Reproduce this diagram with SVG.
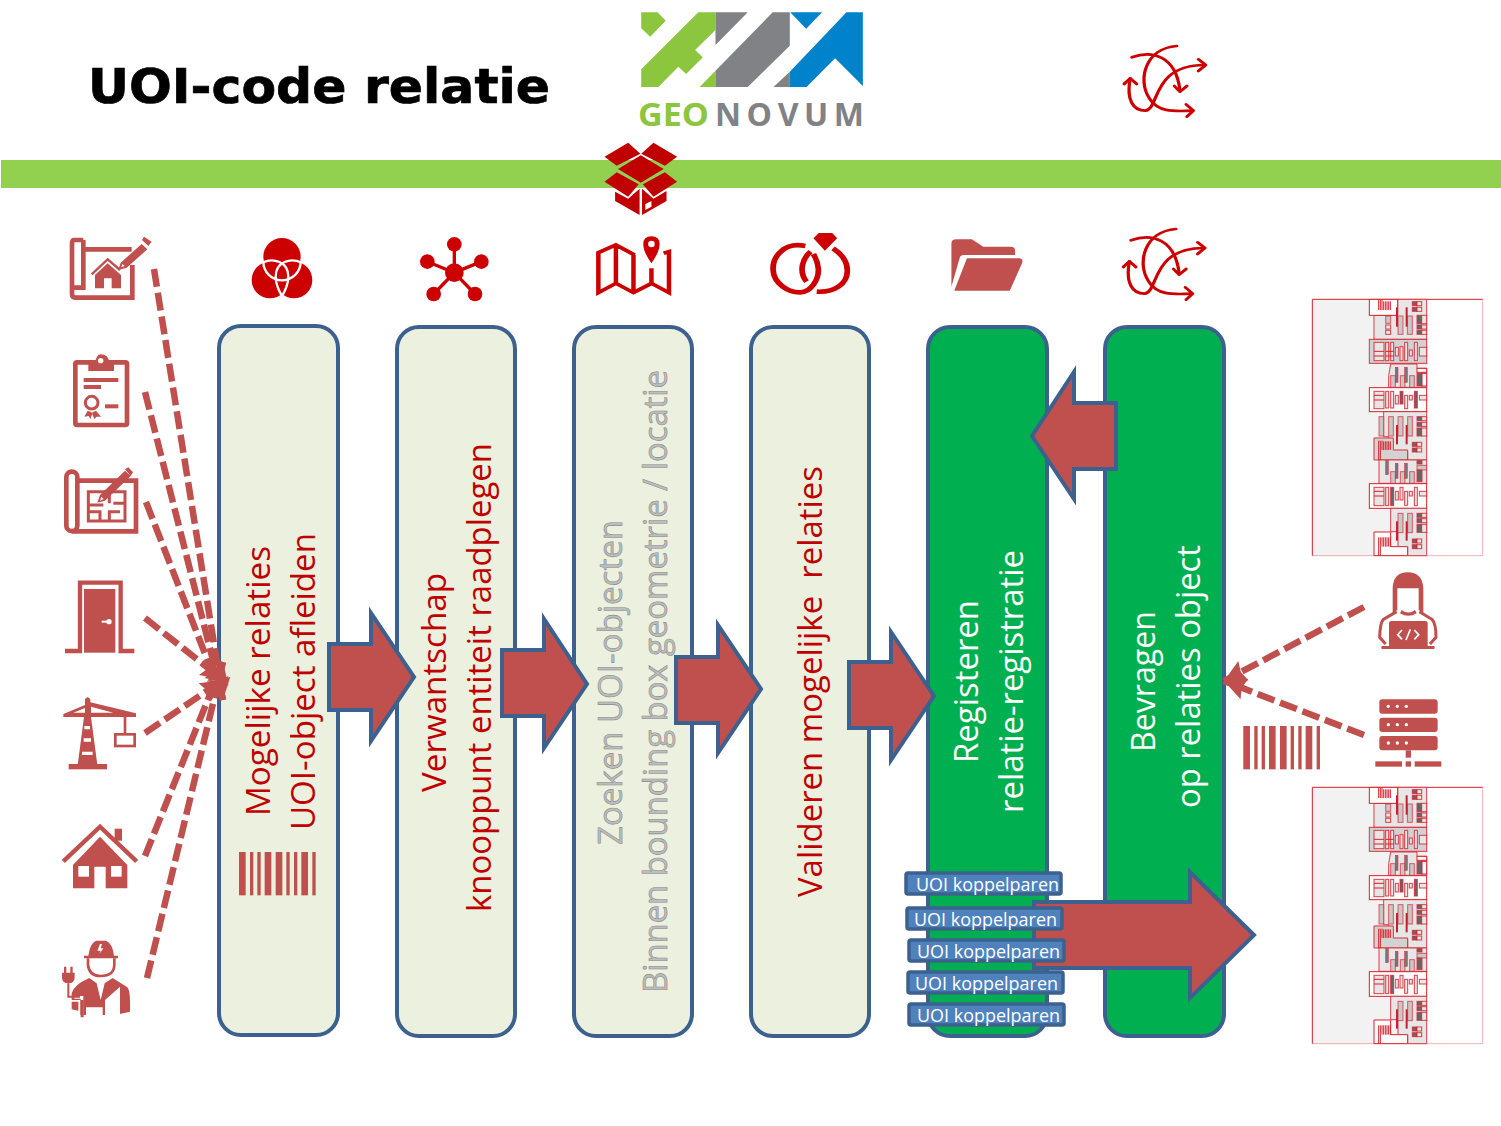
<svg xmlns="http://www.w3.org/2000/svg" xmlns:xlink="http://www.w3.org/1999/xlink" width="1501" height="1126" viewBox="0 0 1501 1126">
<style>
.bx{fill:#EBF1DE;stroke:#3C618F;stroke-width:4}
.gr{fill:#00B050;stroke:#3C618F;stroke-width:4}
.ar{fill:#C0504D;stroke:#3C618F;stroke-width:4;stroke-linejoin:miter}
.t{font-family:"Open Sans","Liberation Sans",sans-serif;font-size:33px}
.red{fill:#C00000}
.wh{fill:#fff}
.gy{fill:#BDBDBD;stroke:#8C8C8C;stroke-width:.6px}
.ic{fill:#C0504D}
.ics{fill:none;stroke:#C0504D}
.dk{fill:#CC0000}
.dks{fill:none;stroke:#CC0000}
.dash{fill:none;stroke:#C0504D;stroke-width:6.500;stroke-dasharray:18 6}
.lb{fill:#4F81BD;stroke:#3C618F;stroke-width:3.5}
.lt{font-family:"Open Sans","Liberation Sans",sans-serif;font-size:18px;fill:#fff}
.p{fill:#E6E6E6;stroke:#D8202C;stroke-width:3;stroke-opacity:.85}
.pw{fill:#fff;stroke:#D8202C;stroke-width:3}
.pd{fill:#D2D2D2;stroke:#D8202C;stroke-width:3;stroke-opacity:.9}
.pk{fill:#C8C8C8;stroke:#E02030;stroke-width:3;stroke-opacity:.7}
.pf{fill:#666;stroke:#E02030;stroke-width:3;stroke-opacity:.8}
</style>
<defs>
<marker id="tri" markerUnits="userSpaceOnUse" markerWidth="24" markerHeight="24" refX="22" refY="12" orient="auto"><path d="M0,1 L22,12 L0,23 L3,12 Z" fill="#C0504D"/></marker>
<g id="barcode"><g class="ic"><rect x="0" y="0" width="20" height="130"/><rect x="33" y="0" width="10" height="130"/><rect x="55" y="0" width="10" height="130"/><rect x="77" y="0" width="20" height="130"/><rect x="110" y="0" width="20" height="130"/><rect x="142" y="0" width="10" height="130"/><rect x="165" y="0" width="10" height="130"/><rect x="187" y="0" width="20" height="130"/><rect x="220" y="0" width="10" height="130"/></g></g>
<g id="cycle">
<g class="dks" stroke-width="8" stroke-linecap="round" stroke-linejoin="round">
<path d="M1352,172 C1400,150 1460,165 1470,272"/><path d="M1456,258 L1470,275 L1487,258"/>
<path d="M1462,138 C1385,145 1365,240 1395,295 C1415,335 1450,335 1500,332"/><path d="M1485,313 L1503,332 L1487,350"/>
<path d="M1348,235 C1338,300 1355,332 1385,332 C1420,328 1400,195 1530,195"/><path d="M1515,178 L1533,195 L1515,213"/><path d="M1333,252 L1348,235 L1364,252"/>
</g></g>
<g id="strip">
<rect x="37" y="28" width="343" height="769" fill="#F2F2F2"/>
<path d="M37,797 V28 H548" fill="none" stroke="#D8202C" stroke-width="3"/>
<path d="M548,28 V797 H37" fill="none" stroke="#E02030" stroke-opacity=".35" stroke-width="3"/>
<path class="p" d="M222,76 H293 V28 H380 V148 H222 Z"/>
<rect class="pw" x="208" y="28" width="85" height="48"/>
<path d="M236,30 V60 M241,30 V60 M246,30 V60 M251,34 V60 M256,34 V60 M261,34 V60 M266,34 V60 M271,34 V60" stroke="#D8202C" stroke-width="3"/>
<rect class="pk" x="257" y="78" width="15" height="22"/><rect class="p" x="257" y="105" width="15" height="12"/><rect class="p" x="257" y="121" width="15" height="12"/>
<rect class="pk" x="294" y="78" width="15" height="55"/><rect class="pk" x="322" y="78" width="15" height="55"/>
<rect x="288" y="52" width="6" height="58" fill="#C8202C"/><rect x="317" y="52" width="6" height="58" fill="#C8202C"/>
<rect class="pf" x="337" y="35" width="14" height="12"/><rect class="p" x="351" y="35" width="14" height="12"/><rect class="pf" x="337" y="52" width="14" height="12"/><rect class="p" x="351" y="52" width="14" height="12"/>
<rect class="pf" x="351" y="76" width="14" height="25"/><rect class="p" x="365" y="76" width="15" height="25"/><rect class="pf" x="351" y="105" width="14" height="12"/><rect class="p" x="365" y="105" width="15" height="12"/><rect class="pf" x="351" y="121" width="14" height="12"/><rect class="p" x="365" y="121" width="15" height="12"/>
<g><rect class="pd" x="208" y="148" width="172" height="72"/>
<rect class="p" x="222" y="157" width="30" height="55"/><path d="M222,184 H252 M222,198 H252" stroke="#D8202C" stroke-width="3"/>
<rect class="p" x="257" y="157" width="9" height="55"/><rect class="p" x="272" y="157" width="9" height="55"/><path d="M257,184 H281 M257,198 H281" stroke="#D8202C" stroke-width="3"/>
<rect class="p" x="286" y="172" width="9" height="26"/><rect class="p" x="300" y="170" width="9" height="42"/><rect class="p" x="314" y="157" width="9" height="55"/><rect class="p" x="328" y="180" width="9" height="18"/><rect class="p" x="343" y="157" width="9" height="55"/><rect class="p" x="358" y="172" width="22" height="26"/></g>
<path class="p" d="M266,292 V257 L272,222 H351 V235 H380 V292 Z"/>
<rect class="pk" x="272" y="257" width="14" height="35"/><rect class="pk" x="301" y="257" width="14" height="35"/><rect class="pk" x="329" y="257" width="14" height="35"/>
<rect x="286" y="232" width="8" height="45" fill="#777" stroke="#E02030" stroke-width="1.5"/><rect x="314" y="232" width="8" height="45" fill="#777" stroke="#E02030" stroke-width="1.5"/>
<rect class="pw" x="351" y="235" width="29" height="12"/><rect class="pf" x="351" y="250" width="15" height="38"/><rect class="pw" x="366" y="250" width="14" height="38"/>
<rect class="pw" x="208" y="293" width="172" height="72"/>
<g><rect class="p" x="222" y="304" width="30" height="52"/><path d="M222,316 H252 M222,330 H252" stroke="#D8202C" stroke-width="3"/><rect class="p" x="257" y="304" width="9" height="50"/><rect class="p" x="272" y="304" width="9" height="50"/><rect class="p" x="286" y="316" width="9" height="26"/><rect class="pf" x="300" y="304" width="9" height="38"/><rect class="p" x="314" y="316" width="9" height="40"/><rect class="p" x="328" y="316" width="9" height="14"/><rect class="pf" x="343" y="304" width="9" height="50"/><rect class="p" x="358" y="316" width="22" height="14"/></g>
<path class="p" d="M251,365 H380 V510 H323 V485 H266 V440 H251 Z"/>
<rect class="pk" x="237" y="380" width="14" height="58"/><rect class="pk" x="266" y="380" width="14" height="58"/><rect class="pk" x="294" y="380" width="15" height="58"/><rect class="pk" x="323" y="380" width="14" height="58"/>
<rect x="288" y="405" width="6" height="58" fill="#C8202C"/><rect x="317" y="405" width="6" height="58" fill="#C8202C"/>
<rect class="pf" x="351" y="380" width="14" height="12"/><rect class="p" x="365" y="380" width="15" height="12"/><rect class="pf" x="351" y="397" width="14" height="12"/><rect class="p" x="365" y="397" width="15" height="12"/><rect class="pf" x="351" y="414" width="14" height="24"/><rect class="p" x="365" y="414" width="15" height="24"/>
<path class="pd" d="M222,444 H280 V480 H323 V510 H222 Z"/>
<path d="M236,452 V510 M241,452 V510 M246,452 V480 M251,454 V480 M256,454 V480 M261,454 V480 M266,454 V480 M271,454 V480" stroke="#D8202C" stroke-width="3"/>
<rect class="pf" x="337" y="457" width="14" height="12"/><rect class="p" x="351" y="457" width="14" height="12"/><rect class="pf" x="337" y="474" width="14" height="12"/><rect class="p" x="351" y="474" width="14" height="12"/>
<path class="p" d="M237,510 H380 V580 H237 Z"/>
<rect class="pk" x="272" y="545" width="14" height="35"/><rect class="pk" x="301" y="545" width="14" height="35"/><rect class="pk" x="329" y="545" width="14" height="35"/>
<rect x="257" y="512" width="8" height="42" fill="#777" stroke="#E02030" stroke-width="1.5"/><rect x="286" y="520" width="8" height="45" fill="#777" stroke="#E02030" stroke-width="1.5"/><rect x="314" y="520" width="8" height="45" fill="#777" stroke="#E02030" stroke-width="1.5"/>
<rect class="pf" x="351" y="512" width="15" height="10"/><rect class="pk" x="351" y="526" width="29" height="14"/><rect class="pf" x="351" y="540" width="15" height="35"/>
<rect class="pw" x="208" y="581" width="172" height="74"/>
<g><rect class="p" x="222" y="592" width="30" height="55"/><path d="M222,604 H252 M222,618 H252" stroke="#D8202C" stroke-width="3"/><rect class="p" x="257" y="592" width="9" height="55"/><rect class="pf" x="272" y="592" width="9" height="55"/><rect class="p" x="286" y="604" width="9" height="26"/><rect class="p" x="300" y="592" width="9" height="38"/><rect class="p" x="314" y="604" width="9" height="42"/><rect class="p" x="328" y="604" width="9" height="14"/><rect class="p" x="343" y="592" width="9" height="55"/><rect class="p" x="358" y="604" width="22" height="14"/></g>
<path class="p" d="M272,655 H380 V797 H323 V772 H294 V725 H272 Z"/>
<rect class="pk" x="294" y="670" width="15" height="58"/><rect class="pk" x="323" y="670" width="14" height="58"/>
<rect x="288" y="694" width="6" height="58" fill="#C8202C"/><rect x="317" y="694" width="6" height="58" fill="#C8202C"/>
<rect class="pf" x="351" y="670" width="14" height="12"/><rect class="p" x="365" y="670" width="15" height="12"/><rect class="pf" x="351" y="686" width="14" height="12"/><rect class="p" x="365" y="686" width="15" height="12"/><rect class="pf" x="351" y="703" width="14" height="24"/><rect class="p" x="365" y="703" width="15" height="24"/>
<path class="pw" d="M222,726 H272 V770 H323 V797 H222 Z"/>
<path d="M236,742 V797 M241,742 V797 M246,742 V770 M251,742 V770 M256,742 V770 M261,742 V770 M266,742 V770 M271,742 V770" stroke="#D8202C" stroke-width="3"/>
<rect class="pf" x="337" y="747" width="14" height="12"/><rect class="p" x="351" y="747" width="14" height="12"/><rect class="pf" x="337" y="764" width="14" height="12"/><rect class="p" x="351" y="764" width="14" height="12"/>
</g>
</defs>
<rect width="1501" height="1126" fill="#fff"/>
<g id="title"><text x="88" y="103" font-family="'DejaVu Sans','Liberation Sans',sans-serif" font-weight="700" font-size="48" textLength="462" lengthAdjust="spacingAndGlyphs" fill="#000" stroke="#000" stroke-width=".7">UOI-code relatie</text></g>
<g id="logo" transform="translate(580,0) scale(.40816,.33333)">
<path fill="#8CC63F" d="M150,37 H190 L210,62 L172,110 L150,85 Z M290,37 H332 V90 L282,150 L301,172 L260,222 L241,200 L192,261 H150 V208 Z M332,212 V261 H293 Z"/>
<path fill="#808285" d="M332,37 H411 L332,135 Z M472,37 H514 V137 L411,261 H332 V212 Z M514,215 V261 H474 Z"/>
<path fill="#0083CA" d="M515,37 H593 L554,86 Z M653,37 H693 V258 L625,175 L555,261 H514 V215 Z"/>
</g>
<g id="logotext" font-family="'Open Sans','Liberation Sans',sans-serif" font-weight="700" font-size="32"><text x="638" y="126" textLength="71" lengthAdjust="spacingAndGlyphs" fill="#8CC63F">GEO</text><text x="715" y="126" textLength="149" fill="#808285">NOVUM</text></g>
<rect id="band" x="1" y="160" width="1500" height="28" fill="#92D050"/>
<g id="icon-cycle-top" transform="translate(580,0) scale(.40816,.33333)"><use href="#cycle" xlink:href="#cycle"/></g>
<g id="icon-box" transform="translate(580,0) scale(.40816,.33333)"><path fill="#C00000" d="M118,428 L60,470 L90,497 L148,461 Z M180,428 L238,470 L208,497 L150,461 Z M149,466 L205,507 L149,548 L93,507 Z M90,517 L144,553 L118,590 L60,545 Z M208,517 L154,553 L180,590 L238,545 Z M86,575 L118,596 L146,566 V645 L86,603 Z M152,566 L180,596 L212,573 V603 L152,645 Z"/><path fill="#fff" d="M160,612 L175,603 V620 L160,630 Z"/></g>
<g id="icon-venn" transform="translate(40,220) scale(.33333)"><g class="dk"><circle cx="726" cy="110" r="56"/><circle cx="690" cy="180" r="55"/><circle cx="762" cy="180" r="55"/></g><path fill="none" stroke="#fff" stroke-width="7" d="M670,125 A56 56 0 0 0 782,125 M668,128 C700,112 745,125 745,170 C745,190 735,215 726,228 M784,128 C752,112 707,125 707,170 C707,190 717,215 726,228"/></g>
<g id="icon-network" transform="translate(405,225) scale(.33333)"><path class="dks" stroke-width="10" d="M148,143 V60 M148,143 L68,110 M148,143 L229,110 M148,143 L86,207 M148,143 L210,207"/><g class="dk"><circle cx="148" cy="143" r="28"/><circle cx="148" cy="58" r="22"/><circle cx="67" cy="110" r="22"/><circle cx="229" cy="110" r="22"/><circle cx="86" cy="207" r="22"/><circle cx="210" cy="207" r="22"/></g></g>
<g id="icon-map" transform="translate(580,0) scale(.40816,.33333)"><path class="dks" stroke-width="11" d="M134,765 L88,735 L45,758 V878 L88,850 L131,878 L175,850 L218,878 V755 L205,760 M88,735 V850 M131,765 V878 M175,805 V850"/><path fill="#CC0000" stroke="#fff" stroke-width="5" d="M175,706 C145,706 145,745 175,795 C205,745 205,706 175,706 Z"/><ellipse cx="175" cy="732" rx="8" ry="10" fill="#fff"/></g>
<g id="icon-rings" transform="translate(580,0) scale(.40816,.33333)"><path class="dk" d="M572,715 L585,699 H618 L630,715 L600,752 Z"/><path class="dks" stroke-width="14" d="M552,738 C500,725 472,770 473,808 C474,850 510,878 540,877 C565,876 585,840 584,808 C583,790 578,775 572,762 M620,745 C645,765 655,790 655,812 C655,850 625,878 580,875 M555,845 C535,815 545,775 565,755"/></g>
<g id="icon-folder" transform="translate(580,0) scale(.40816,.33333)"><path class="ic" d="M910,730 Q910,718 922,718 H960 L988,740 H1055 Q1066,740 1066,752 V765 H940 Q932,765 930,775 L910,860 Z M948,775 H1075 Q1087,775 1083,790 L1053,872 H917 Z"/></g>
<g id="icon-cycle-bottom" transform="translate(579.200,183) scale(.40816,.33333)"><use href="#cycle" xlink:href="#cycle"/></g>
<g id="node-mogelijk"><rect class="bx" x="219" y="326" width="119" height="709" rx="22"/><text class="t red" transform="translate(270,816) rotate(-90)" textLength="270" lengthAdjust="spacingAndGlyphs">Mogelijke relaties</text><text class="t red" transform="translate(315,830) rotate(-90)" textLength="297" lengthAdjust="spacingAndGlyphs">UOI-object afleiden</text><use href="#barcode" xlink:href="#barcode" transform="translate(239,852) scale(.33333)"/></g>
<g id="node-verwantschap"><rect class="bx" x="397" y="327" width="118" height="709" rx="22"/><text class="t red" transform="translate(446,792) rotate(-90)" textLength="219" lengthAdjust="spacingAndGlyphs">Verwantschap</text><text class="t red" transform="translate(491,912) rotate(-90)" textLength="469" lengthAdjust="spacingAndGlyphs">knooppunt entiteit raadplegen</text></g>
<g id="node-zoeken"><rect class="bx" x="574" y="327" width="118" height="709" rx="22"/><text class="t gy" transform="translate(622,845) rotate(-90)" textLength="325" lengthAdjust="spacingAndGlyphs">Zoeken UOI-objecten</text><text class="t gy" transform="translate(667,993) rotate(-90)" textLength="623" lengthAdjust="spacingAndGlyphs">Binnen bounding box geometrie / locatie</text></g>
<g id="node-valideren"><rect class="bx" x="751" y="327" width="118" height="709" rx="22"/><text class="t red" transform="translate(822,897) rotate(-90)" textLength="431" lengthAdjust="spacingAndGlyphs" xml:space="preserve">Valideren mogelijke  relaties</text></g>
<g id="node-registeren"><rect class="gr" x="928" y="327" width="119" height="709" rx="22"/><text class="t wh" transform="translate(978,763) rotate(-90)" textLength="163" lengthAdjust="spacingAndGlyphs">Registeren</text><text class="t wh" transform="translate(1023,813) rotate(-90)" textLength="263" lengthAdjust="spacingAndGlyphs">relatie-registratie</text></g>
<g id="node-bevragen"><rect class="gr" x="1105" y="327" width="119" height="709" rx="22"/><text class="t wh" transform="translate(1155,752) rotate(-90)" textLength="141" lengthAdjust="spacingAndGlyphs">Bevragen</text><text class="t wh" transform="translate(1200,808) rotate(-90)" textLength="263" lengthAdjust="spacingAndGlyphs">op relaties object</text></g>
<g id="arrows">
<path class="ar" d="M329,644 H371 V613 L414,677 L371,741 V710 H329 Z"/>
<path class="ar" d="M502,650 H544 V619 L587,684 L544,748 V716 H502 Z"/>
<path class="ar" d="M676,657 H718 V625 L761,689 L718,753 V723 H676 Z"/>
<path class="ar" d="M849,662 H891 V632 L934,696 L891,760 V728 H849 Z"/>
<path class="ar" d="M1116,403 H1074 V372 L1032,436 L1074,499 V469 H1116 Z"/>
<path class="ar" d="M1034,902 H1190 V872 L1254,935 L1190,998 V968 H1034 Z"/>
</g>
<g id="connectors">
<path class="dash" marker-end="url(#tri)" d="M154,269 L223,700"/>
<path class="dash" marker-end="url(#tri)" d="M145,392 L223,700"/>
<path class="dash" marker-end="url(#tri)" d="M146,502 L223,700"/>
<path class="dash" marker-end="url(#tri)" d="M145,618 L223,680"/>
<path class="dash" marker-end="url(#tri)" d="M145,733 L223,680"/>
<path class="dash" marker-end="url(#tri)" d="M145,856 L223,662"/>
<path class="dash" marker-end="url(#tri)" d="M147,978 L223,662"/>
<path class="dash" marker-end="url(#tri)" d="M1364,607 L1224,681"/>
<path class="dash" marker-end="url(#tri)" d="M1364,735 L1224,681"/>
</g>
<g id="labels">
<rect class="lb" x="906" y="873" width="155" height="21" rx="2"/><text class="lt" x="916" y="890.500" textLength="143" lengthAdjust="spacingAndGlyphs">UOI koppelparen</text>
<rect class="lb" x="907" y="908" width="155" height="21" rx="2"/><text class="lt" x="914" y="925.500" textLength="143" lengthAdjust="spacingAndGlyphs">UOI koppelparen</text>
<rect class="lb" x="909" y="940" width="155" height="21" rx="2"/><text class="lt" x="917" y="957.500" textLength="143" lengthAdjust="spacingAndGlyphs">UOI koppelparen</text>
<rect class="lb" x="908" y="972" width="155" height="21" rx="2"/><text class="lt" x="915" y="989.500" textLength="143" lengthAdjust="spacingAndGlyphs">UOI koppelparen</text>
<rect class="lb" x="909" y="1004" width="155" height="21" rx="2"/><text class="lt" x="917" y="1021.500" textLength="143" lengthAdjust="spacingAndGlyphs">UOI koppelparen</text>
</g>
<g id="icon-plan-house" transform="translate(40,220) scale(.33333)">
<path class="ics" stroke-width="14" d="M130,60 H102 Q96,60 96,70 V222 Q96,233 108,233 H277 V135 M130,60 V203 H103 M137,88 H275"/>
<path class="ics" stroke-width="7" d="M155,163 L203,118 L240,150"/>
<path class="ic" d="M165,205 V165 L203,130 L243,165 V205 H215 V175 H192 V205 Z"/>
<path class="ic" d="M235,150 L242,128 L305,72 L322,88 L260,143 Z M312,50 L335,65 L325,78 L306,60 Z"/>
<path class="wh" d="M244,142 L247,132 L254,138 Z"/>
</g>
<g id="icon-certificate" transform="translate(40,220) scale(.33333)">
<rect class="ics" x="106" y="427" width="155" height="188" rx="5" stroke-width="14"/>
<path class="ic" d="M145,453 V428 H165 Q170,403 182,403 Q205,403 208,428 H222 V453 Z"/><circle class="wh" cx="182" cy="422" r="8"/>
<rect class="ic" x="131" y="474" width="104" height="12"/><rect class="ic" x="131" y="495" width="52" height="12"/><rect class="ic" x="195" y="553" width="40" height="12"/>
<circle class="ics" cx="155" cy="548" r="19" stroke-width="9"/>
<path class="ic" d="M143,572 L133,590 L146,588 L151,597 L158,578 Z M168,572 L183,590 L170,590 L163,597 L155,578 Z"/>
</g>
<g id="icon-plan-floor" transform="translate(40,220) scale(.33333)">
<rect class="ics" x="79" y="755" width="33" height="178" rx="16" stroke-width="14"/>
<path class="ics" stroke-width="14" d="M95,934 H288 V782 H112"/>
<path class="ics" stroke-width="9" d="M145,815 H255 V903 H145 Z M145,855 H190 M145,875 H180 V903 M208,815 V850 M255,850 H220 M208,903 V875 H240"/>
<path class="ic" d="M172,848 L180,825 L255,752 L272,768 L195,842 Z M255,748 L265,742 L279,757 L272,768 Z"/>
<path class="wh" d="M180,842 L184,830 L191,837 Z"/>
</g>
<g id="icon-door" transform="translate(40,570) scale(.33333)">
<path class="ics" stroke-width="13" d="M75,243 H120 V38 H242 V243 H283"/>
<rect class="ic" x="132" y="57" width="94" height="191"/><circle class="wh" cx="207" cy="155" r="8"/><rect class="wh" x="185" y="152" width="20" height="6"/>
</g>
<g id="icon-crane" transform="translate(40,570) scale(.33333)">
<path class="ic" d="M70,432 L135,405 V388 Q143,375 151,388 V397 L288,430 V441 H70 Z M132,441 H153 L172,585 H113 Z"/>
<path class="wh" d="M100,428 L135,414 V428 Z M153,410 L220,428 H153 Z M133,468 H150 V478 H133 Z M131,505 H153 V515 H131 Z M126,545 H158 V555 H126 Z"/>
<rect class="ic" x="86" y="582" width="115" height="16"/>
<path class="ics" stroke-width="8" d="M255,441 V490"/><rect class="ics" x="226" y="493" width="58" height="35" stroke-width="8"/>
</g>
<g id="icon-house" transform="translate(40,570) scale(.33333)">
<path class="ics" stroke-width="13" d="M70,874 L180,770 L290,874"/><rect class="ic" x="224" y="776" width="22" height="36"/>
<path class="ic" d="M99,885 L180,800 L262,885 V955 H197 V890 H163 V955 H99 Z"/>
<rect class="wh" x="115" y="888" width="32" height="32"/><rect class="wh" x="213" y="888" width="32" height="32"/>
</g>
<g id="icon-worker" transform="translate(40,570) scale(.33333)">
<path class="ic" d="M132,1165 V1157 H145 Q150,1120 168,1112 H198 Q218,1120 222,1157 H234 V1165 Z"/>
<path class="wh" d="M180,1122 L172,1142 H182 L178,1152 L190,1135 H182 L186,1122 Z"/>
<path class="ics" stroke-width="8" d="M144,1165 V1185 Q148,1218 182,1218 Q222,1218 223,1185 V1165"/>
<path class="ic" d="M148,1224 L170,1240 L182,1290 L194,1240 L218,1224 L262,1252 Q272,1262 270,1325 L240,1332 V1250 L195,1290 V1335 H188 V1312 H138 V1335 H120 V1290 H95 V1270 Q100,1245 148,1224 Z"/>
<path class="wh" d="M103,1278 H130 V1340 H122 V1286 H103 Z"/>
<path class="ic" d="M95,1295 L115,1295 V1322 L95,1318 Z M122,1290 H131 V1342 H122 Z"/>
<path class="ics" stroke-width="6" d="M85,1240 V1280 H120"/>
<path class="ic" d="M66,1208 H104 V1222 Q104,1240 85,1240 Q66,1240 66,1222 Z M72,1190 H79 V1208 H72 Z M91,1190 H98 V1208 H91 Z"/>
</g>
<g id="icon-developer" transform="translate(1220,560) scale(.33333)">
<path class="ic" d="M518,160 V85 Q520,37 563,37 Q607,37 610,85 V160 L596,150 V85 H532 V150 Z"/>
<path class="ics" stroke-width="9" d="M530,155 L490,178 Q480,190 479,232 L497,252 M598,155 L636,178 Q648,190 648,232 L630,252"/>
<path class="ic" d="M545,150 Q565,165 585,150 L590,160 Q565,175 540,160 Z"/>
<path class="ic" d="M507,190 Q507,183 515,183 H615 Q623,183 623,190 V258 H507 Z"/>
<rect class="ic" x="484" y="258" width="160" height="9" rx="3"/>
<path fill="none" stroke="#fff" stroke-width="5" d="M546,210 L533,224 L546,238 M583,210 L596,224 L583,238 M571,208 L558,240"/>
</g>
<g id="icon-server" transform="translate(1220,560) scale(.33333)">
<g class="ic"><rect x="478" y="418" width="175" height="43" rx="9"/><rect x="478" y="473" width="175" height="43" rx="9"/><rect x="478" y="528" width="175" height="43" rx="9"/><rect x="557" y="571" width="16" height="22"/><rect x="466" y="604" width="80" height="16"/><rect x="557" y="604" width="16" height="16"/><rect x="584" y="604" width="80" height="16"/></g>
<g class="wh"><circle cx="505" cy="439" r="5"/><circle cx="532" cy="439" r="5"/><circle cx="559" cy="439" r="5"/><circle cx="505" cy="494" r="5"/><circle cx="532" cy="494" r="5"/><circle cx="559" cy="494" r="5"/><circle cx="505" cy="549" r="5"/><circle cx="532" cy="549" r="5"/><circle cx="559" cy="549" r="5"/></g>
</g>
<g id="icon-barcode"><use href="#barcode" xlink:href="#barcode" transform="translate(1243.300,726) scale(.33333)"/></g>
<g id="strip-top" transform="translate(1300,290) scale(.33333)"><use href="#strip" xlink:href="#strip"/></g>
<g id="strip-bottom" transform="translate(1300,778) scale(.33333)"><use href="#strip" xlink:href="#strip"/></g>
</svg>
